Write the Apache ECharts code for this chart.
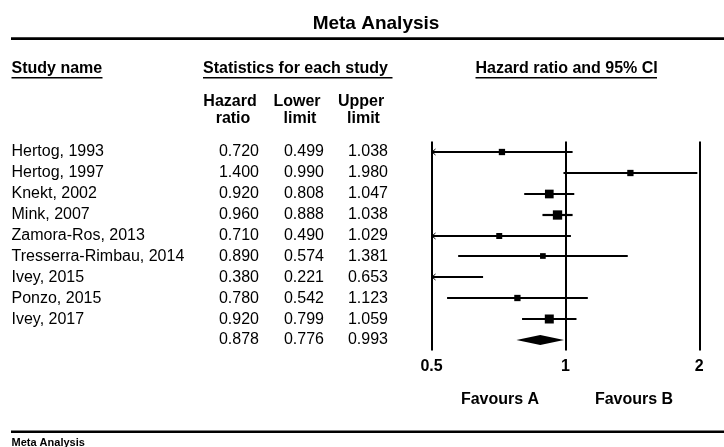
<!DOCTYPE html>
<html><head><meta charset="utf-8">
<script src="https://cdn.jsdelivr.net/npm/echarts@6/dist/echarts.min.js"></script>
<style>html,body{margin:0;padding:0;background:#fff}#c{width:724px;height:447px}</style>
</head><body><div id="c"></div>
<script>
// ---- data ----
const studyNames = ['Hertog, 1993','Hertog, 1997','Knekt, 2002','Mink, 2007','Zamora-Ros, 2013','Tresserra-Rimbau, 2014','Ivey, 2015','Ponzo, 2015','Ivey, 2017'];
const hazardRatio = [0.720, 1.400, 0.920, 0.960, 0.710, 0.890, 0.380, 0.780, 0.920];
const lowerLimit  = [0.499, 0.990, 0.808, 0.888, 0.490, 0.574, 0.221, 0.542, 0.799];
const upperLimit  = [1.038, 1.980, 1.047, 1.038, 1.029, 1.381, 0.653, 1.123, 1.059];
const relWeight   = [8.2, 8.2, 15.6, 17.9, 7.4, 6.7, 4.2, 8.2, 16.7];
const summaryStats = [0.878, 0.776, 0.993];
const axisTicks = [0.5, 1, 2];
const axisTickLabels = ['0.5', '1', '2'];
const colHeaders = [['Hazard','ratio'], ['Lower','limit'], ['Upper','limit']];
const sectionHeaders = ['Study name', 'Statistics for each study', 'Hazard ratio and 95% CI'];
const favourLabels = ['Favours A', 'Favours B'];
const chartTitle = 'Meta Analysis';

// ---- build ----
const FONT = '"Liberation Sans", Arial, Helvetica, sans-serif';
const rows = studyNames.map((n, i) => [i, hazardRatio[i], lowerLimit[i], upperLimit[i], relWeight[i], 0]);
rows.push([studyNames.length, summaryStats[0], summaryStats[1], summaryStats[2], 0, 1]);
const nRows = rows.length;
const xMin = axisTicks[0], xMax = axisTicks[axisTicks.length - 1];
const numRight = [259, 324, 388];

function renderItem(params, api) {
  const i = api.value(0), hr = api.value(1), lo = api.value(2), hi = api.value(3), w = api.value(4), isSum = api.value(5);
  const yRaw = api.coord([1, i])[1];
  const y = Math.round(yRaw);
  const children = [];
  const txt = (x, text, align) => ({type: 'text', silent: true, style: {x: x, y: yRaw, text: text, fill: '#000', font: '16px ' + FONT, textAlign: align, textVerticalAlign: 'middle'}});
  if (!isSum) children.push(txt(11.5, studyNames[i], 'left'));
  [hr, lo, hi].forEach((v, k) => children.push(txt(numRight[k], v.toFixed(3), 'right')));
  if (isSum) {
    const xl = api.coord([lo, i])[0], xh = api.coord([hi, i])[0], xc = api.coord([hr, i])[0];
    children.push({type: 'polygon', shape: {points: [[xl, y], [xc, y - 5], [xh, y], [xc, y + 5]]}, style: {fill: '#000'}});
  } else {
    const l = Math.max(lo, xMin), h = Math.min(hi, xMax);
    const xl = api.coord([l, i])[0], xh = api.coord([h, i])[0];
    children.push({type: 'rect', shape: {x: xl, y: y - 1.1, width: xh - xl, height: 2.2}, style: {fill: '#000'}});
    if (lo < xMin) {
      children.push({type: 'polyline', shape: {points: [[xl + 4, y - 3], [xl + 0.5, y], [xl + 4, y + 3]]}, style: {stroke: '#000', lineWidth: 1, fill: null}});
    }
    if (hi > xMax) {
      children.push({type: 'polyline', shape: {points: [[xh - 4, y - 3], [xh - 0.5, y], [xh - 4, y + 3]]}, style: {stroke: '#000', lineWidth: 1, fill: null}});
    }
    if (hr >= xMin && hr <= xMax) {
      const s = 2.2 * Math.sqrt(w);
      const xc = api.coord([hr, i])[0];
      children.push({type: 'rect', shape: {x: xc - s / 2, y: y - s / 2, width: s, height: s}, style: {fill: '#000'}});
    }
  }
  return {type: 'group', children: children};
}

const bold16 = 'bold 16px ' + FONT;
const graphics = [
  {type: 'text', style: {x: 376, y: 24, text: chartTitle, font: 'bold 19px ' + FONT, fill: '#000', textAlign: 'center', textVerticalAlign: 'middle'}},
  {type: 'rect', shape: {x: 11, y: 37.3, width: 713, height: 2.6}, style: {fill: '#000'}},
  {type: 'rect', shape: {x: 11, y: 430.5, width: 713, height: 2.6}, style: {fill: '#000'}},
  {type: 'text', style: {x: 11.5, y: 442.5, text: chartTitle, font: 'bold 11px ' + FONT, fill: '#000', textAlign: 'left', textVerticalAlign: 'middle'}},
];
const secX = [11.5, 203, 475.5];
const secW = [91, 189.5, 181.5];
sectionHeaders.forEach((t, k) => {
  graphics.push({type: 'text', style: {x: secX[k], y: 69, text: t, font: bold16, fill: '#000', textAlign: 'left', textVerticalAlign: 'middle'}});
  graphics.push({type: 'rect', shape: {x: secX[k], y: 77, width: secW[k], height: 1.4}, style: {fill: '#000'}});
});
const colCx = [[230, 233], [297, 300], [361, 363.5]];
colHeaders.forEach((pair, k) => {
  pair.forEach((t, j) => {
    graphics.push({type: 'text', style: {x: colCx[k][j], y: j === 0 ? 101.7 : 119, text: t, font: bold16, fill: '#000', textAlign: 'center', textVerticalAlign: 'middle'}});
  });
});
const favX = [500, 634];
favourLabels.forEach((t, k) => {
  graphics.push({type: 'text', style: {x: favX[k], y: 400, text: t, font: bold16, fill: '#000', textAlign: 'center', textVerticalAlign: 'middle'}});
});

const chart = echarts.init(document.getElementById('c'), null, {renderer: 'canvas'});
chart.setOption({
  animation: false,
  backgroundColor: '#fff',
  grid: {left: 431.5, right: 24.7, top: 141.5, bottom: 96.5, containLabel: false},
  xAxis: {
    type: 'log', logBase: 2, min: xMin, max: xMax,
    axisLine: {show: false}, axisTick: {show: false},
    splitLine: {show: true, lineStyle: {color: '#000', width: 2}},
    axisLabel: {
      margin: 8, color: '#000', fontSize: 16, fontWeight: 'bold', fontFamily: FONT,
      formatter: v => { const k = axisTicks.findIndex(t => Math.abs(t - v) < 1e-9); return k >= 0 ? axisTickLabels[k] : ''; }
    }
  },
  yAxis: {type: 'value', inverse: true, min: -0.5, max: nRows - 0.5, show: false},
  series: [{
    type: 'custom', renderItem: renderItem, clip: false,
    encode: {x: 1, y: 0}, data: rows
  }],
  graphic: graphics
});
</script>
</body></html>
